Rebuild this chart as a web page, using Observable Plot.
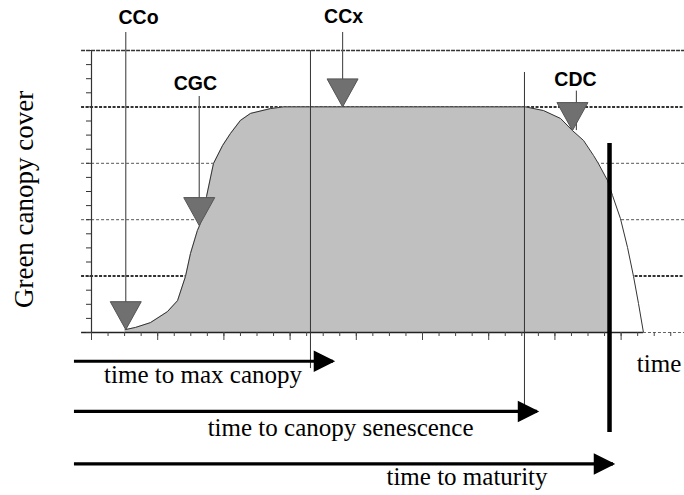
<!DOCTYPE html>
<html><head><meta charset="utf-8">
<script src="https://cdn.jsdelivr.net/npm/d3@7"></script>
<script src="https://cdn.jsdelivr.net/npm/@observablehq/plot@0.6"></script>
<style>body{margin:0;background:#fff}</style>
</head><body><div id="chart"></div>
<script>
// Canopy curve (time in arbitrary tick units, cover in %)
const curveT  = [2.03, 2.66, 3.56, 4.59, 5.20, 5.68, 5.98, 6.40, 6.53, 6.95, 7.37, 7.92, 8.40, 9.00, 9.61, 10.82, 11.60, 26.22, 27.31, 28.34, 29.06, 29.73, 30.33, 30.63, 31.18, 31.30, 31.48, 31.96, 32.39, 32.75, 33.05, 33.35];
const curveCC = [1.0, 1.8, 3.5, 7.4, 11.3, 19.9, 28.0, 36.2, 37.9, 48.2, 59.9, 66.3, 70.6, 75.2, 77.7, 79.4, 80.0, 80.0, 78.7, 75.9, 71.6, 68.1, 62.8, 59.9, 53.9, 51.8, 48.6, 40.4, 30.1, 19.9, 10.3, 0];

// Parameter markers
const markerNames = ["CCo", "CGC", "CCx", "CDC"];
const markerT     = [2.07, 6.51, 15.17, 29.06];
const markerCC    = [1.0, 37.9, 80.0, 71.6];
const stemT       = [2.07, 6.51, 15.17, 29.30];
const stemTopCC   = [106.4, 83.7, 106.4, 85.6];
const labelT      = [2.84, 6.28, 15.23, 29.24];
const labelCC     = [111.5, 88.1, 112.1, 89.5];

// Phase durations
const phaseNames = ["time to max canopy", "time to canopy senescence", "time to maturity"];
const phaseEnd   = [14.62, 26.95, 31.54];
const phaseRow   = [-10.2, -28.0, -46.6];
const phaseLabelT  = [6.74, 15.05, 22.69];
const phaseLabelCC = [-15.2, -33.7, -51.4];
const guideT    = [13.23, 26.16];
const guideTop  = [100, 92.2];
const guideBot  = [-12.8, -26.6];
const maturityT = 31.3;
const maturityTop = 67.0, maturityBot = -35.5;

// Axis grid
const gridTop = [100];
const gridBold = [80, 20];
const gridThin = [60, 40];
const xMinorTicks = d3.range(0, 36, 1);
const xMajorTicks = d3.range(0, 36, 4);
const yTicks = d3.range(0, 101, 5);

const curve = curveT.map((t, i) => ({t, cc: curveCC[i]}));
const markers = markerNames.map((name, i) => ({name, t: markerT[i], cc: markerCC[i], st: stemT[i], top: stemTopCC[i], lt: labelT[i], lc: labelCC[i]}));
const phases = phaseNames.map((name, i) => ({name, end: phaseEnd[i], v: phaseRow[i], lt: phaseLabelT[i], lc: phaseLabelCC[i]}));
const guides = guideT.map((t, i) => ({t, top: guideTop[i], bot: guideBot[i]}));

const downTri = {draw(ctx) { ctx.moveTo(0, 0); ctx.lineTo(-15.5, -28); ctx.lineTo(15.5, -28); ctx.closePath(); }};
const rightTri = {draw(ctx) { ctx.moveTo(0, 0); ctx.lineTo(-19, -9.5); ctx.lineTo(-19, 9.5); ctx.closePath(); }};

const XMAX = 35.83, XLEFT = -0.6;
const serif = "'Liberation Serif', 'Times New Roman', serif";
const sans = "'Liberation Sans', Arial, sans-serif";

const chart = Plot.plot({
  width: 684, height: 495,
  marginLeft: 91, marginRight: 0, marginTop: 50, marginBottom: 163,
  x: {domain: [0, XMAX], axis: null},
  y: {domain: [0, 100], axis: null},
  style: {background: "#fff", overflow: "visible"},
  marks: [
    Plot.ruleY(gridTop, {x1: XLEFT, x2: XMAX, stroke: "#333", strokeWidth: 1.3, strokeDasharray: "4,1"}),
    Plot.ruleY(gridBold, {x1: XLEFT, x2: XMAX, stroke: "#333", strokeWidth: 2, strokeDasharray: "3,1.5"}),
    Plot.ruleY(gridThin, {x1: XLEFT, x2: XMAX, stroke: "#555", strokeWidth: 1, strokeDasharray: "3,2"}),
    Plot.areaY(curve.filter(d => d.t >= maturityT), {x: "t", y: "cc", fill: "#fff"}),
    Plot.areaY(curve.filter(d => d.t <= maturityT), {x: "t", y: "cc", fill: "#c0c0c0"}),
    Plot.line(curve, {x: "t", y: "cc", stroke: "#333", strokeWidth: 1}),
    Plot.ruleY([0], {x1: XLEFT, x2: 33.35, stroke: "#222", strokeWidth: 1.5}),
    Plot.ruleY([0], {x1: 33.35, x2: XMAX, stroke: "#666", strokeWidth: 1, strokeDasharray: "3,2"}),
    Plot.ruleX([0], {y1: 0, y2: 100, stroke: "#333", strokeWidth: 1.2}),
    Plot.axisY({ticks: yTicks, anchor: "left", tickSize: 5, tickFormat: () => "", label: null, stroke: "#333"}),
    Plot.axisX({ticks: xMinorTicks, anchor: "bottom", tickSize: 4, tickFormat: () => "", label: null, stroke: "#444"}),
    Plot.axisX({ticks: xMajorTicks, anchor: "bottom", tickSize: 8, tickFormat: () => "", label: null, stroke: "#444"}),
    Plot.ruleX(guides, {x: "t", y1: "bot", y2: "top", stroke: "#333", strokeWidth: 1}),
    Plot.ruleX([maturityT], {y1: maturityBot, y2: maturityTop, stroke: "#000", strokeWidth: 4.5}),
    Plot.ruleX(markers, {x: "st", y1: "cc", y2: "top", stroke: "#555", strokeWidth: 1.2}),
    Plot.dot(markers, {x: "t", y: "cc", symbol: downTri, fill: "#707070", stroke: "#555", strokeWidth: 1, r: 10}),
    Plot.text(markers, {x: "lt", y: "lc", text: "name", fontFamily: sans, fontWeight: "bold", fontSize: 19.5, fill: "#000"}),
    Plot.ruleY(phases, {y: "v", x1: -1.03, x2: "end", stroke: "#000", strokeWidth: 3.2}),
    Plot.dot(phases, {x: "end", y: "v", symbol: rightTri, fill: "#000", stroke: "#000", r: 10}),
    Plot.text(phases, {x: "lt", y: "lc", text: "name", fontFamily: serif, fontSize: 25, fill: "#000"}),
    Plot.text(["time"], {x: 34.29, y: -11.2, text: d => d, fontFamily: serif, fontSize: 25, fill: "#000"}),
    Plot.text(["Green canopy cover"], {x: -4.08, y: 47.2, text: d => d, rotate: -90, fontFamily: serif, fontSize: 27, fill: "#000"})
  ]
});
document.getElementById("chart").appendChild(chart);
</script>
</body></html>
